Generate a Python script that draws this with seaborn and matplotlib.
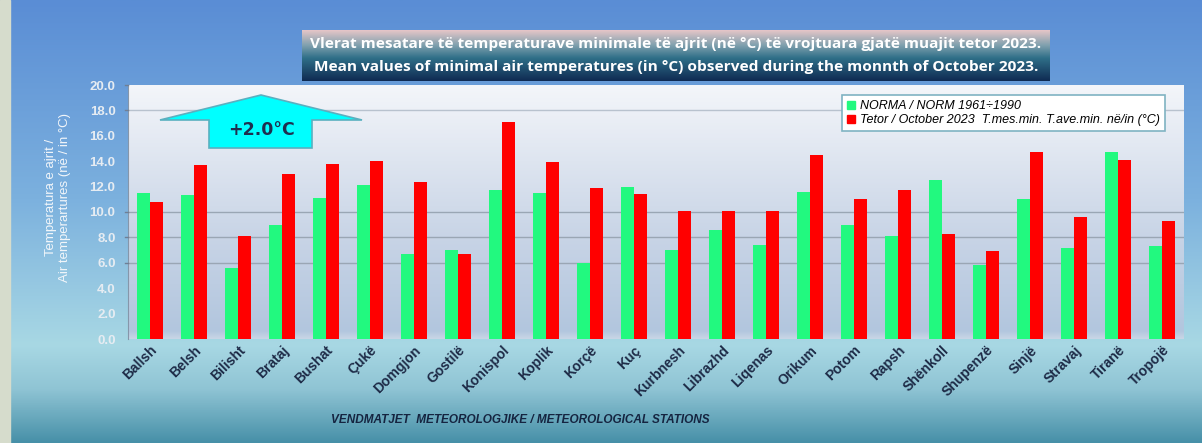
import numpy as np
import pandas as pd
import matplotlib
matplotlib.use("Agg")
import matplotlib.pyplot as plt
from matplotlib.colors import LinearSegmentedColormap
from matplotlib.patches import Polygon, Patch
import seaborn as sns

stations = ["Ballsh", "Belsh", "Bilisht", "Brataj", "Bushat", "Çukë", "Domgjon", "Gostilë",
            "Konispol", "Koplik", "Korçë", "Kuç", "Kurbnesh", "Librazhd", "Liqenas", "Orikum",
            "Potom", "Rapsh", "Shënkoll", "Shupenzë", "Sinjë", "Stravaj", "Tiranë", "Tropojë"]
norma = [11.5, 11.3, 5.6, 9.0, 11.1, 12.1, 6.7, 7.0, 11.7, 11.5, 6.0, 12.0,
         7.0, 8.6, 7.4, 11.6, 9.0, 8.1, 12.5, 5.8, 11.0, 7.2, 14.7, 7.3]
tetor = [10.8, 13.7, 8.1, 13.0, 13.8, 14.0, 12.4, 6.7, 17.1, 13.9, 11.9, 11.4,
         10.1, 10.1, 10.1, 14.5, 11.0, 11.7, 8.3, 6.9, 14.7, 9.6, 14.1, 9.3]
series_names = ["NORMA / NORM 1961÷1990",
                "Tetor / October 2023  T.mes.min. T.ave.min. në/in (°C)"]
yticks = [0, 2, 4, 6, 8, 10, 12, 14, 16, 18, 20]
gridlines = [6, 8, 10, 18]

df = pd.DataFrame({
    "station": stations * 2,
    "temp": norma + tetor,
    "series": [series_names[0]] * len(stations) + [series_names[1]] * len(stations),
})

W, H = 1202, 443
fig = plt.figure(figsize=(W / 100, H / 100), dpi=100)

# figure background gradient
bg = fig.add_axes([0, 0, 1, 1], zorder=-10)
bg_cmap = LinearSegmentedColormap.from_list(
    "bg", [(0, "#5a8dd5"), (0.45, "#7cb1de"), (0.78, "#a8d8e4"), (0.88, "#8fc4d4"), (1.0, "#4790a8")])
bg.imshow(np.linspace(0, 1, 256).reshape(-1, 1), aspect="auto", cmap=bg_cmap,
          extent=[0, 1, 0, 1], origin="upper")
bg.add_patch(plt.Rectangle((0, 0), 10 / W, 1, color="#d6dccc", transform=bg.transAxes))
bg.set_axis_off()

# title box
tb = fig.add_axes([302 / W, 1 - 81 / H, 748 / W, 51 / H], zorder=5)
tb_cmap = LinearSegmentedColormap.from_list(
    "tb", [(0, "#e6c6c8"), (0.3, "#7fa0ae"), (0.55, "#2f6f88"), (1.0, "#0f2a52")])
tb.imshow(np.linspace(0, 1, 256).reshape(-1, 1), aspect="auto", cmap=tb_cmap,
          extent=[0, 1, 0, 1], origin="upper")
tb.set_axis_off()
tb.text(0.5, 0.73, "Vlerat mesatare të temperaturave minimale të ajrit (në °C) të vrojtuara gjatë muajit tetor 2023.",
        ha="center", va="center", color="white", fontsize=11.1, fontweight="bold",
        family="Open Sans", transform=tb.transAxes)
tb.text(0.5, 0.27, "Mean values of minimal air temperatures (in °C) observed during the monnth of October 2023.",
        ha="center", va="center", color="white", fontsize=11.1, fontweight="bold",
        family="Open Sans", transform=tb.transAxes)

# main axes
ax = fig.add_axes([128 / W, 1 - 339 / H, (1184 - 128) / W, (339 - 85) / H])
pa_cmap = LinearSegmentedColormap.from_list("pa", [(0, "#f4f6fa"), (0.6, "#c8d4e6"), (0.97, "#b2c6de"), (1, "#c8d6e6")])
ax.imshow(np.linspace(0, 1, 256).reshape(-1, 1), aspect="auto", cmap=pa_cmap,
          extent=[-0.5, len(stations) - 0.5, 0, 20], origin="upper", zorder=0)

sns.barplot(data=df, x="station", y="temp", hue="series",
            palette=["#22f97f", "#ff0000"], width=0.6, saturation=1,
            ax=ax, legend=False, zorder=3)
ax.set_xlim(-0.5, len(stations) - 0.5)
ax.set_ylim(0, 20)
for g in gridlines:
    ax.axhline(g, color="#9aa6b4" if g != 18 else "#b8c2ce", lw=1, zorder=1)
ax.set_yticks(yticks)
ax.set_yticklabels([f"{v:.1f}" for v in yticks], color="#e6ecf2", fontsize=9.5,
                   fontweight="bold", family="Liberation Sans")
ax.tick_params(axis="y", length=0, pad=9)
ax.tick_params(axis="x", length=0, pad=3)
ax.set_xticks(range(len(stations)))
ax.set_xticklabels(stations, rotation=45, ha="right", rotation_mode="anchor",
                   fontsize=10, fontweight="bold", color="#1e2b47", family="Liberation Sans")
ax.set_xlabel("")
ax.set_ylabel("")
for s in ["top", "right", "bottom"]:
    ax.spines[s].set_visible(False)
ax.spines["left"].set_color("#8696aa")

# y-axis little tick marks at gridlines
for g in gridlines + [20]:
    ax.plot([-0.57, -0.5], [g, g], color="#6f7f95", lw=1, clip_on=False, zorder=4)

# legend
handles = [Patch(color="#22f97f"), Patch(color="#ff0000")]
leg = fig.legend(handles, series_names, loc="upper left",
                 bbox_to_anchor=(836 / W, 1 - 89 / H), frameon=True, fancybox=False,
                 edgecolor="#7fb3c2", facecolor="white", framealpha=1,
                 handlelength=0.6, handleheight=0.6, handletextpad=0.4,
                 labelspacing=0.15, borderpad=0.4,
                 prop={"family": "Liberation Sans", "style": "italic", "size": 9})
leg.get_frame().set_linewidth(1.2)
leg.set_zorder(10)

# arrow annotation
def fp(x, y):
    return (x / W, 1 - y / H)
arrow_pts = [fp(160, 120), fp(261, 95), fp(362, 120), fp(312, 120), fp(312, 148),
             fp(209, 148), fp(209, 120)]
fig.patches.append(Polygon(arrow_pts, closed=True, facecolor="#00ffff", edgecolor="#5ab0c0",
                           lw=1.2, transform=fig.transFigure, zorder=8))
fig.text(262 / W, 1 - 130 / H, "+2.0°C", ha="center", va="center", fontsize=12.5,
         fontweight="bold", color="#1f2f4f", family="DejaVu Sans", zorder=9)

# y label
fig.text(58 / W, 1 - 197 / H, "Temperatura e ajrit /\nAir temperartures (në / in °C)",
         rotation=90, ha="center", va="center", color="#f2f6fa", fontsize=9.5,
         family="Liberation Sans", linespacing=1.15)

# x label
fig.text(520 / W, 1 - 420 / H, "VENDMATJET  METEOROLOGJIKE / METEOROLOGICAL STATIONS",
         ha="center", va="center", fontsize=8.5, fontweight="bold", style="italic",
         color="#152440", family="Liberation Sans")

fig.savefig("out.png", dpi=100)
